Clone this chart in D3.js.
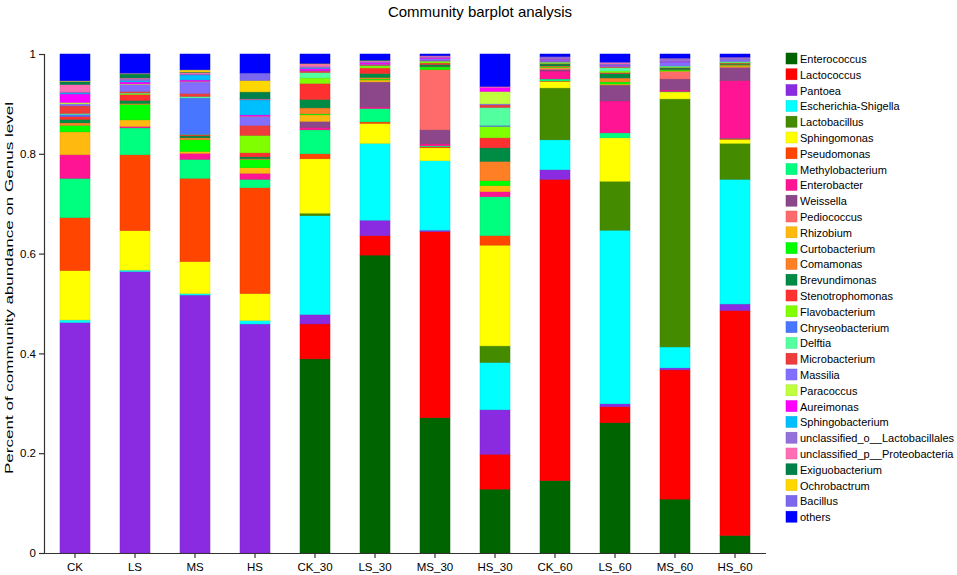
<!DOCTYPE html>
<html>
<head>
<meta charset="utf-8">
<script src="https://cdn.jsdelivr.net/npm/d3@7/dist/d3.min.js"></script>
<style>
  body { margin: 0; background: #fff; }
  svg { font-family: "Liberation Sans", Arial, sans-serif; }
</style>
</head>
<body>
<div id="chart-area"></div>
<script>
// samples on the x axis
const samples = ["CK", "LS", "MS", "HS", "CK_30", "LS_30", "MS_30", "HS_30", "CK_60", "LS_60", "MS_60", "HS_60"];

// genera, bottom of the stack first (same order as the legend)
const genera = ["Enterococcus", "Lactococcus", "Pantoea", "Escherichia-Shigella", "Lactobacillus",
  "Sphingomonas", "Pseudomonas", "Methylobacterium", "Enterobacter", "Weissella", "Pediococcus",
  "Rhizobium", "Curtobacterium", "Comamonas", "Brevundimonas", "Stenotrophomonas", "Flavobacterium",
  "Chryseobacterium", "Delftia", "Microbacterium", "Massilia", "Paracoccus", "Aureimonas",
  "Sphingobacterium", "unclassified_o__Lactobacillales", "unclassified_p__Proteobacteria",
  "Exiguobacterium", "Ochrobactrum", "Bacillus", "others"];

const palette = ["#006400", "#FF0000", "#8A2BE2", "#00FFFF", "#458B00", "#FFFF00", "#FF4500",
  "#00FF7F", "#FF1493", "#8B4789", "#FF6A6A", "#FFB90F", "#00FF00", "#FF7F24", "#008B45",
  "#FF3030", "#7FFF00", "#4876FF", "#54FF9F", "#EE3B3B", "#836FFF", "#C0FF3E", "#FF00FF",
  "#00BFFF", "#9370DB", "#FF6EB4", "#00804A", "#FFD700", "#7B68EE", "#0000FF"];

// relative abundance per sample, in genus order
const ck    = [0, 0, .462, .005, 0, .099, .106, .079, .047, 0, 0, .046, .013, .005, .007, .006, 0, .004, .002, .015, .004, .003, .017, .002, .002, .015, .006, .001, .001, .053];
const ls    = [0, 0, .564, .003, 0, .079, .152, .054, .003, 0, 0, .013, .031, .002, .006, .012, .002, 0, .001, .003, .014, .001, .004, .003, .003, .002, .008, .001, .001, .038];
const ms    = [0, 0, .517, .003, 0, .064, .167, .038, .012, 0, 0, .004, .023, .004, .004, .002, .001, .073, .003, .006, .023, .001, .003, .010, .002, .003, .001, .004, .001, .031];
const hs    = [0, 0, .459, .007, 0, .054, .212, .017, .012, 0, 0, .011, .017, .001, .004, .008, .035, 0, 0, .020, .017, .001, .003, .030, .001, .001, .014, .023, .015, .038];
const ck30  = [.389, .070, .019, .198, .005, .109, .010, .048, .005, .012, 0, .013, .002, .012, .017, .032, .011, 0, .011, .003, .001, 0, .004, .001, .003, .005, 0, .001, 0, .019];
const ls30  = [.597, .039, .031, .154, 0, .040, .003, .027, .003, .050, 0, .004, .002, .003, .008, .011, .004, 0, .001, .002, .001, 0, .003, 0, .002, .002, .001, 0, 0, .012];
const ms30  = [.271, .373, .003, .139, 0, .026, .002, .002, .004, .028, .120, .001, .005, .001, .004, .003, .003, 0, .001, .001, .004, 0, .002, 0, .001, .002, 0, 0, .001, .003];
const hs30  = [.128, .070, .089, .095, .033, .202, .019, .078, .010, 0, 0, .012, .010, .039, .027, .020, .023, .002, .036, .005, .002, .025, .008, 0, 0, .002, 0, 0, 0, .065];
const ck60  = [.145, .604, .019, .060, .104, .013, .001, .004, .016, .003, .002, .002, .001, .002, .004, .001, .001, 0, .002, .001, .003, 0, .001, 0, .003, .001, 0, 0, .002, .005];
const ls60  = [.261, .032, .006, .348, .098, .087, 0, .010, .064, .032, 0, .002, .004, .008, .009, .002, .003, 0, .007, .002, .002, 0, .001, .001, .001, .003, 0, 0, .001, .016];
const ms60  = [.108, .259, .004, .042, .497, .014, 0, .001, .003, .022, .015, .001, .002, .001, .003, .001, .001, 0, .002, 0, .008, 0, .001, 0, .005, .001, 0, 0, .001, .008];
const hs60  = [.035, .451, .013, .250, .072, .008, .001, .001, .116, .026, .001, .002, .001, .002, .002, .001, .001, 0, .002, 0, .003, 0, 0, 0, .004, .001, 0, 0, .001, .006];

const yTicks = [0, 0.2, 0.4, 0.6, 0.8, 1];

const columns = [ck, ls, ms, hs, ck30, ls30, ms30, hs30, ck60, ls60, ms60, hs60];

// table for d3.stack: one row per sample
let table = samples.map((s, i) => {
  let row = { sample: s };
  genera.forEach((g, j) => { row[g] = columns[i][j]; });
  return row;
});

let svg = d3.select("#chart-area").append("svg")
  .attr("width", 957)
  .attr("height", 575);

let x = d3.scaleBand()
  .domain(samples)
  .range([45, 765])
  .paddingInner(0.5)
  .paddingOuter(0.25);

let y = d3.scaleLinear()
  .domain([0, 1])
  .range([553, 54]);

let color = d3.scaleOrdinal()
  .domain(genera)
  .range(palette);

let stacked = d3.stack().keys(genera)(table);

svg.append("g")
  .selectAll("g")
  .data(stacked)
  .enter()
  .append("g")
  .attr("fill", (d) => color(d.key))
  .attr("stroke", (d) => d3.color(color(d.key)).darker(0.4))
  .attr("stroke-width", 0.5)
  .selectAll("rect")
  .data((d) => d)
  .enter()
  .append("rect")
  .attr("x", (d) => x(d.data.sample))
  .attr("y", (d) => y(d[1]))
  .attr("height", (d) => Math.max(0, y(d[0]) - y(d[1])))
  .attr("width", x.bandwidth());

// axes
let yAxis = svg.append("g")
  .attr("transform", "translate(44,0)")
  .call(d3.axisLeft(y).tickValues(yTicks).tickSize(5).tickFormat(d3.format("~g")));

let xAxis = svg.append("g")
  .attr("transform", "translate(0,553)")
  .call(d3.axisBottom(x).tickSize(5).tickSizeOuter(0));

xAxis.select(".domain").attr("d", "M40,0.5H766");

[yAxis, xAxis].forEach((a) => {
  a.selectAll("path, line").attr("stroke", "#333").attr("stroke-width", 1.2);
  a.selectAll("text").attr("font-size", 11.5).attr("fill", "#000")
    .attr("font-family", "'Liberation Sans', Arial, sans-serif");
});
xAxis.selectAll("text").attr("dy", "0.9em");

// title and axis label
svg.append("text")
  .attr("x", 480)
  .attr("y", 17)
  .attr("text-anchor", "middle")
  .attr("font-size", 15)
  .text("Community barplot analysis");

svg.append("text")
  .attr("transform", "translate(13,288) rotate(-90)")
  .attr("text-anchor", "middle")
  .attr("font-size", 11.5)
  .attr("textLength", 372)
  .attr("lengthAdjust", "spacingAndGlyphs")
  .text("Percent of community abundance on Genus level");

// legend
let legend = svg.append("g")
  .selectAll("g")
  .data(genera)
  .enter()
  .append("g")
  .attr("transform", (d, i) => "translate(786," + (53 + i * 15.8) + ")");

legend.append("rect")
  .attr("width", 11)
  .attr("height", 11)
  .attr("fill", (d) => color(d))
  .attr("stroke", (d) => d3.color(color(d)).darker(0.4))
  .attr("stroke-width", 0.5);

legend.append("text")
  .attr("x", 14)
  .attr("y", 10)
  .attr("font-size", 11)
  .text((d) => d);
</script>
</body>
</html>
